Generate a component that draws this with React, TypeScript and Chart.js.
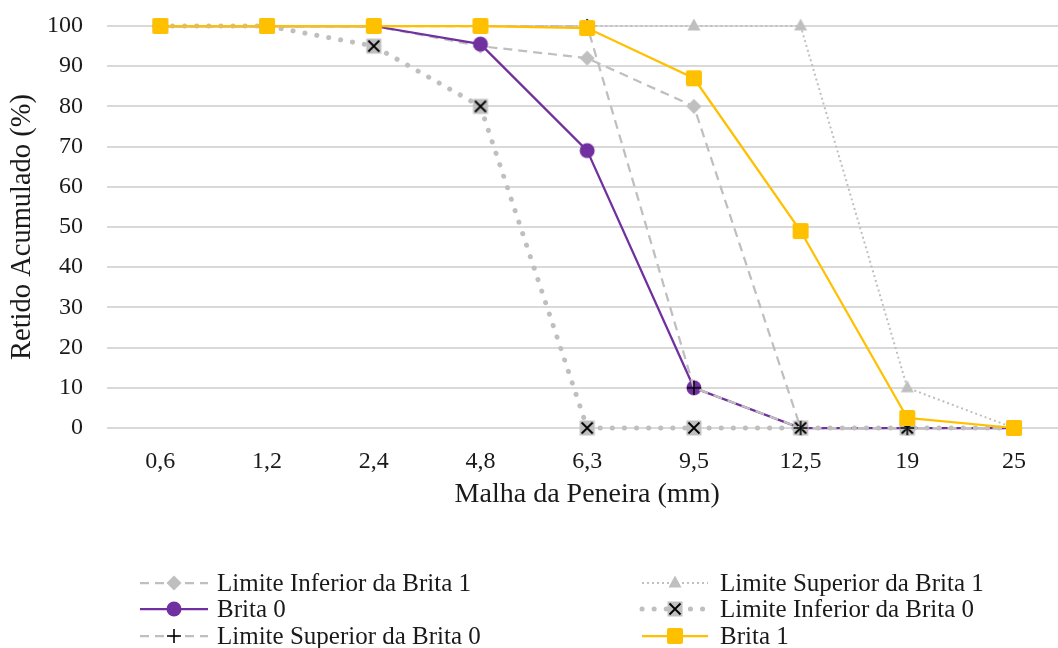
import React, { useEffect, useRef } from 'react';
import { Chart, registerables } from 'chart.js';

Chart.register(...registerables);

// ---------- data ----------
const categories = ['0,6', '1,2', '2,4', '4,8', '6,3', '9,5', '12,5', '19', '25'];
const limInfBrita1 = [100, 100, 100, 95, 92, 80, 0, 0, 0];
const limSupBrita1 = [100, 100, 100, 100, 100, 100, 100, 10, 0];
const brita0 = [100, 100, 100, 95.5, 69, 10, 0, 0, 0];
const limInfBrita0 = [100, 100, 95, 80, 0, 0, 0, 0, 0];
const limSupBrita0 = [100, 100, 100, 100, 100, 10, 0, 0, 0];
const brita1 = [100, 100, 100, 100, 99.5, 87, 49, 2.5, 0];
const yTickValues = [0, 10, 20, 30, 40, 50, 60, 70, 80, 90, 100];
const seriesNames = [
  'Limite Inferior da Brita 1',
  'Limite Superior da Brita 1',
  'Brita 0',
  'Limite Inferior da Brita 0',
  'Limite Superior da Brita 0',
  'Brita 1',
];
const xTitle = 'Malha da Peneira (mm)';
const yTitle = 'Retido Acumulado (%)';

// ---------- styles ----------
const FONT = '"Liberation Serif", "Times New Roman", serif';
const TEXT = '#1a1a1a';
const GRAY = '#bfbfbf';
const PURPLE = '#7030a0';
const GOLD = '#ffc000';
const GRID = '#d9d9d9';

function makeMarker(kind: string): HTMLCanvasElement {
  const c = document.createElement('canvas');
  c.width = 20;
  c.height = 20;
  const g = c.getContext('2d')!;
  const cx = 10, cy = 10;
  g.beginPath();
  switch (kind) {
    case 'diamond':
      g.fillStyle = GRAY;
      g.moveTo(cx, cy - 7.5);
      g.lineTo(cx + 7.5, cy);
      g.lineTo(cx, cy + 7.5);
      g.lineTo(cx - 7.5, cy);
      g.closePath();
      g.fill();
      break;
    case 'triangle':
      g.fillStyle = GRAY;
      g.moveTo(cx, cy - 7.5);
      g.lineTo(cx + 6.5, cy + 4.5);
      g.lineTo(cx - 6.5, cy + 4.5);
      g.closePath();
      g.fill();
      break;
    case 'circle':
      g.fillStyle = PURPLE;
      g.arc(cx, cy, 7.5, 0, Math.PI * 2);
      g.fill();
      break;
    case 'xbox':
      g.fillStyle = GRAY;
      g.fillRect(cx - 7.5, cy - 7.5, 15, 15);
      g.strokeStyle = '#000';
      g.lineWidth = 1.8;
      g.moveTo(cx - 5.5, cy - 5.5);
      g.lineTo(cx + 5.5, cy + 5.5);
      g.moveTo(cx + 5.5, cy - 5.5);
      g.lineTo(cx - 5.5, cy + 5.5);
      g.stroke();
      break;
    case 'plus':
      g.strokeStyle = '#000';
      g.lineWidth = 1.6;
      g.moveTo(cx - 7, cy);
      g.lineTo(cx + 7, cy);
      g.moveTo(cx, cy - 7);
      g.lineTo(cx, cy + 7);
      g.stroke();
      break;
    case 'square': {
      g.fillStyle = GOLD;
      const r = 2, s = 8;
      g.moveTo(cx - s + r, cy - s);
      g.arcTo(cx + s, cy - s, cx + s, cy + s, r);
      g.arcTo(cx + s, cy + s, cx - s, cy + s, r);
      g.arcTo(cx - s, cy + s, cx - s, cy - s, r);
      g.arcTo(cx - s, cy - s, cx + s, cy - s, r);
      g.closePath();
      g.fill();
      break;
    }
  }
  return c;
}

const seriesStyles = [
  { color: GRAY, width: 2.25, dash: [9, 6], cap: 'butt', marker: 'diamond' },
  { color: GRAY, width: 2, dash: [2, 3], cap: 'butt', marker: 'triangle' },
  { color: PURPLE, width: 2.25, dash: [], cap: 'butt', marker: 'circle' },
  { color: GRAY, width: 5, dash: [0.1, 12], cap: 'round', marker: 'xbox' },
  { color: GRAY, width: 2.25, dash: [9, 6], cap: 'butt', marker: 'plus' },
  { color: GOLD, width: 2.25, dash: [], cap: 'butt', marker: 'square' },
];

export default function App() {
  const ref = useRef<HTMLCanvasElement>(null);

  useEffect(() => {
    const canvas = ref.current!;
    const values = [limInfBrita1, limSupBrita1, brita0, limInfBrita0, limSupBrita0, brita1];
    const markers = seriesStyles.map((s) => makeMarker(s.marker));

    const datasets = values.map((vals, i) => {
      const st = seriesStyles[i];
      return {
        label: seriesNames[i],
        data: vals.map((v, j) => ({ x: j, y: v })),
        borderColor: st.color,
        backgroundColor: st.color,
        borderWidth: st.width,
        borderDash: st.dash,
        borderCapStyle: st.cap,
        pointStyle: markers[i],
        pointRadius: 8,
        pointHoverRadius: 8,
        tension: 0,
        fill: false,
        clip: false as any,
        order: values.length - 1 - i,
      };
    });

    const overlay = {
      id: 'overlay',
      afterDraw(chart: any) {
        const ctx = chart.ctx as CanvasRenderingContext2D;
        const xs = chart.scales.x;
        const ys = chart.scales.y;
        ctx.save();
        ctx.fillStyle = TEXT;
        ctx.textBaseline = 'middle';
        // axis titles
        ctx.font = `28px ${FONT}`;
        ctx.textAlign = 'center';
        ctx.fillText(xTitle, xs.getPixelForValue(4), 495);
        ctx.save();
        ctx.translate(23, (ys.top + ys.bottom) / 2);
        ctx.rotate(-Math.PI / 2);
        ctx.font = `28.5px ${FONT}`;
        ctx.fillText(yTitle, 0, 0);
        ctx.restore();
        // legend (2 columns x 3 rows)
        const cols = [
          { x0: 140, x1: 208, tx: 217 },
          { x0: 642, x1: 708, tx: 720 },
        ];
        const rows = [583, 609, 636];
        ctx.font = `25px ${FONT}`;
        ctx.textAlign = 'left';
        seriesNames.forEach((name, i) => {
          const col = cols[i % 2];
          const y = rows[Math.floor(i / 2)];
          const st = seriesStyles[i];
          ctx.save();
          ctx.strokeStyle = st.color;
          ctx.lineWidth = st.width;
          ctx.setLineDash(st.dash);
          ctx.lineCap = st.cap as CanvasLineCap;
          ctx.beginPath();
          ctx.moveTo(col.x0, y);
          ctx.lineTo(col.x1, y);
          ctx.stroke();
          ctx.restore();
          const m = markers[i];
          const mx = (col.x0 + col.x1) / 2;
          ctx.drawImage(m, mx - m.width / 2, y - m.height / 2);
          ctx.fillStyle = TEXT;
          ctx.fillText(name, col.tx, y + 1);
        });
        ctx.restore();
      },
    };

    const chart = new Chart(canvas, {
      type: 'line',
      data: { datasets: datasets as any },
      options: {
        responsive: false,
        animation: false,
        devicePixelRatio: 1,
        layout: { autoPadding: false, padding: { top: 26, right: 0, left: 0, bottom: 0 } },
        plugins: {
          legend: { display: false },
          tooltip: { enabled: false },
        },
        scales: {
          x: {
            type: 'linear',
            bounds: 'data',
            min: -0.5,
            max: (1058 - 160) / 106.75,
            grid: { display: false },
            border: { display: false },
            afterBuildTicks: (s: any) => {
              s.ticks = categories.map((_, i) => ({ value: i }));
            },
            afterFit: (s: any) => {
              s.height = 220;
              s.paddingLeft = 0;
              s.paddingRight = 0;
            },
            ticks: {
              autoSkip: false,
              maxRotation: 0,
              padding: 11,
              color: TEXT,
              font: { family: FONT, size: 24 },
              callback: (v: any) => categories[v as number] ?? '',
            },
          },
          y: {
            type: 'linear',
            min: 0,
            max: 100,
            grid: { color: GRID, lineWidth: 2, drawTicks: false },
            border: { display: false },
            afterBuildTicks: (s: any) => {
              s.ticks = yTickValues.map((v) => ({ value: v }));
            },
            afterFit: (s: any) => {
              s.width = 107;
              s.paddingTop = 0;
              s.paddingBottom = 0;
            },
            ticks: {
              padding: 24,
              color: TEXT,
              font: { family: FONT, size: 24 },
            },
          },
        },
      },
      plugins: [overlay],
    });
    return () => chart.destroy();
  }, []);

  return (
    <div style={{ position: 'fixed', left: 0, top: 0, width: 1058, height: 648, background: '#fff' }}>
      <canvas ref={ref} width={1058} height={648} style={{ display: 'block' }} />
    </div>
  );
}
